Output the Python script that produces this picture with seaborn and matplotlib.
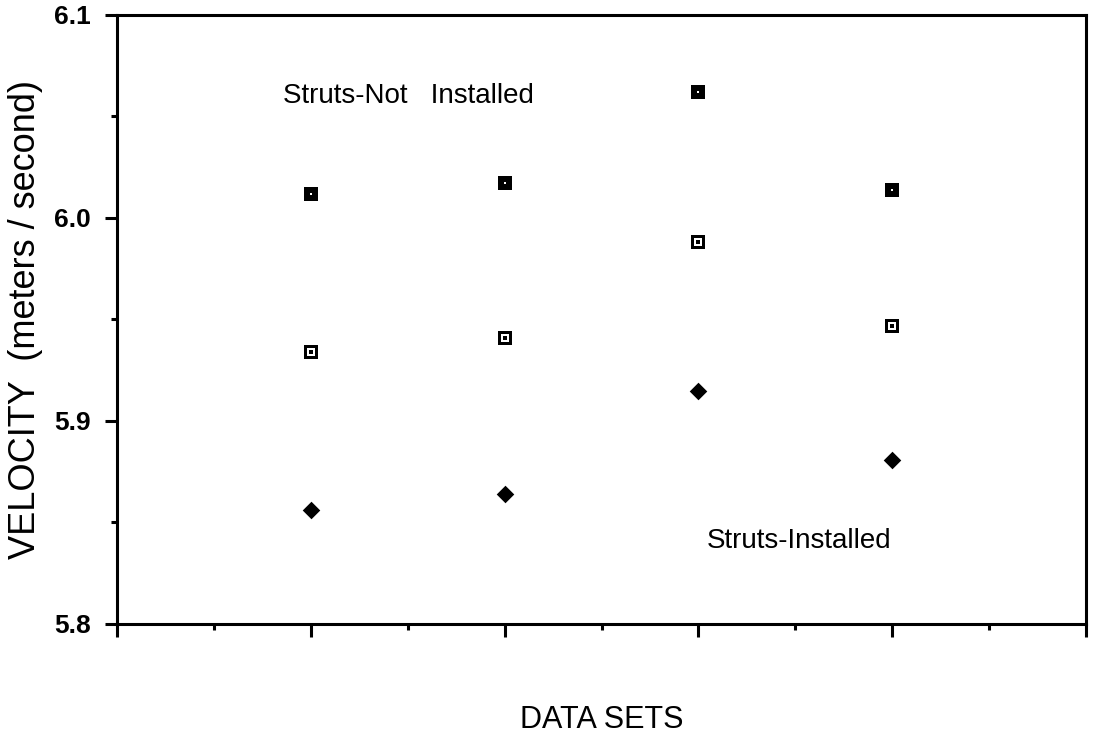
import matplotlib
matplotlib.use("Agg")
import matplotlib.pyplot as plt
from matplotlib.ticker import MultipleLocator, FormatStrFormatter
import seaborn as sns

# ---- data ----
data_sets = [1, 2, 3, 4]
struts_not_installed = [6.012, 6.017, 6.062, 6.014]
open_square_values = [5.934, 5.941, 5.988, 5.947]
struts_installed = [5.856, 5.864, 5.915, 5.881]

x_label = "DATA SETS"
y_label = "VELOCITY  (meters / second)"
label_not_installed = "Struts-Not   Installed"
label_installed = "Struts-Installed"

sns.set_style("ticks")
plt.rcParams["font.family"] = ["Liberation Sans", "DejaVu Sans"]
plt.rcParams["text.color"] = "black"
plt.rcParams["axes.labelcolor"] = "black"
plt.rcParams["xtick.color"] = "black"
plt.rcParams["ytick.color"] = "black"

fig = plt.figure(figsize=(10.94, 7.5), dpi=100)
ax = fig.add_axes([117 / 1094, 126 / 750, (1086 - 117) / 1094, (624 - 15) / 750])

# filled squares with tiny white centre
sns.scatterplot(x=data_sets, y=struts_not_installed, marker="s", s=115,
                color="black", linewidth=0, ax=ax, zorder=3)
sns.scatterplot(x=data_sets, y=struts_not_installed, marker="s", s=3,
                color="white", linewidth=0, ax=ax, zorder=4)
# open squares (black frame, white ring, black centre)
sns.scatterplot(x=data_sets, y=open_square_values, marker="s", s=115,
                color="black", linewidth=0, ax=ax, zorder=3)
sns.scatterplot(x=data_sets, y=open_square_values, marker="s", s=34,
                color="white", linewidth=0, ax=ax, zorder=4)
sns.scatterplot(x=data_sets, y=open_square_values, marker="s", s=8,
                color="black", linewidth=0, ax=ax, zorder=5)
# diamonds
sns.scatterplot(x=data_sets, y=struts_installed, marker="D", s=80,
                color="black", linewidth=0, ax=ax, zorder=3)

ax.set_xlim(0, 5)
ax.set_ylim(5.8, 6.1)

ax.xaxis.set_major_locator(MultipleLocator(1))
ax.xaxis.set_minor_locator(MultipleLocator(0.5))
ax.yaxis.set_major_locator(MultipleLocator(0.1))
ax.yaxis.set_minor_locator(MultipleLocator(0.05))
ax.yaxis.set_major_formatter(FormatStrFormatter("%.1f"))
ax.set_xticklabels([])

ax.tick_params(axis="both", which="major", direction="out", length=9, width=2.2,
               color="black")
ax.tick_params(axis="both", which="minor", direction="out", length=4.5, width=2.2,
               color="black")
ax.tick_params(axis="y", which="major", labelsize=19, pad=10)
for lab in ax.get_yticklabels():
    lab.set_fontweight("bold")

for side in ["left", "bottom", "top", "right"]:
    ax.spines[side].set_visible(True)
    ax.spines[side].set_linewidth(2.2)
    ax.spines[side].set_color("black")

ax.set_xlabel(x_label, fontsize=22, labelpad=46)
ax.set_ylabel(y_label, fontsize=26, labelpad=8)

ax.text(1.505, 6.060, label_not_installed, fontsize=20, ha="center", va="center")
ax.text(3.52, 5.841, label_installed, fontsize=20, ha="center", va="center")

fig.savefig("out.png", dpi=100, facecolor="white")
